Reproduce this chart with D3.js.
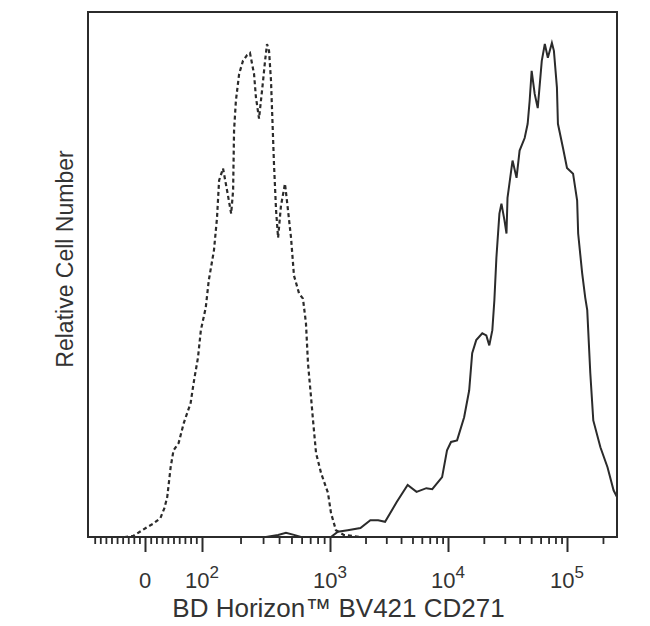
<!DOCTYPE html>
<html>
<head>
<meta charset="utf-8">
<script src="https://cdn.jsdelivr.net/npm/d3@7"></script>
<style>
  html, body { margin: 0; padding: 0; background: #fff; }
  svg { display: block; font-family: "Liberation Sans", Arial, sans-serif; }
</style>
</head>
<body>
<svg id="chart" width="650" height="626"></svg>
<script>
// ---- data (fluorescence intensity vs relative count) ----
const controlX = [-100, -36, -21, 4, 14, 27, 34, 39, 45, 50, 59, 68, 80, 86, 93, 98,
  107, 113, 124, 131, 136, 146, 157, 169, 175, 178, 184, 195, 209, 225, 237, 255, 264, 279,
  300, 311, 322, 334, 346, 365, 379, 393, 414, 445, 470, 496, 523, 573, 615, 649, 673, 711,
  737, 778, 851, 964, 1019, 1122, 1308, 1811, 262144];
const controlY = [0, 0, 0.2, 1.9, 2.5, 3.6, 5.5, 7.6, 13.3, 16.5, 17.9, 21.7, 25.5, 29.8, 34.2, 39.4,
  43.7, 48.9, 54.6, 60.8, 67.9, 70.2, 66.0, 61.6, 66.0, 77.4, 83.1, 88.2, 90.7, 91.8, 92.2, 88.2, 83.7, 79.7,
  86.9, 90.7, 93.9, 92.6, 86.9, 71.1, 62.2, 57.0, 63.1, 67.3, 62.2, 57.0, 49.8, 46.4, 45.4, 40.7, 33.1, 26.6,
  22.2, 16.0, 12.2, 8.4, 4.6, 1.3, 0.4, 0, 0];

const stainedX = [-100, 316, 393, 453, 523, 593, 1019, 1166, 1413, 1811, 2197, 2560, 2929, 3687, 4550,
  5412, 6556, 7356, 8913, 9810, 10603, 11917, 13664, 15060, 15968, 17267, 19409, 20986, 22233, 23584,
  24529, 25509, 27040, 28126, 29825, 31011, 31623, 34198, 34873, 37670, 39963, 44080, 46710, 48552,
  50469, 53520, 56760, 61378, 65100, 69040, 74660, 77627, 82300, 83900, 92550, 100000, 112400, 121600,
  124000, 134000, 142100, 147700, 156700, 166000, 190400, 218300, 245400, 262144];
const stainedY = [0, 0, 0.4, 0.8, 0.4, 0, 0, 1.0, 1.3, 1.7, 3.2, 3.2, 2.9, 6.7, 9.9,
  8.6, 9.3, 9.1, 11.4, 16.5, 18.1, 18.4, 22.8, 27.9, 35.0, 37.5, 38.8, 38.4, 36.5, 39.4,
  45.1, 53.2, 61.6, 63.5, 60.3, 57.8, 64.6, 70.3, 71.7, 68.4, 73.6, 76.0, 78.7, 83.1,
  88.8, 84.4, 81.7, 90.7, 93.9, 91.3, 94.1, 92.6, 85.6, 78.7, 74.1, 70.3, 69.2, 64.1,
  57.8, 50.2, 45.6, 43.2, 31.2, 22.2, 17.1, 13.3, 8.9, 7.6];

const majorTicks = [0, 100, 1000, 10000, 100000];
const majorLabels = [["0", ""], ["10", "2"], ["10", "3"], ["10", "4"], ["10", "5"]];
const minorTicks = [-90, -80, -70, -60, -50, -40, -30, -20, -10, 10, 20, 30, 40, 50, 60, 70, 80, 90,
  200, 300, 400, 500, 600, 700, 800, 900,
  2000, 3000, 4000, 5000, 6000, 7000, 8000, 9000,
  20000, 30000, 40000, 50000, 60000, 70000, 80000, 90000, 200000];
const xTitle = "BD Horizon™ BV421 CD271";
const yTitle = "Relative Cell Number";

// ---- scales ----
const tr = v => v <= 100 ? v / 100 : 1 + Math.log10(v / 100);   // biexponential-like display transform
const L = 88, R = 617, T = 12, B = 537;
const x = d3.scaleLinear()
  .domain([tr(-102), 0, 1, 2, 3, 4, tr(262144)])
  .range([L, 145, 202, 330, 448, 567, R]);
const y = d3.scaleLinear().domain([0, 100]).range([B, T]);

const svg = d3.select("#chart");
const ink = "#2b2b2b";

// ---- curves ----
const line = d3.line().x(d => x(tr(d[0]))).y(d => y(d[1]));
svg.append("path")
  .datum(controlX.map((v, i) => [v, controlY[i]]))
  .attr("d", line)
  .attr("fill", "none").attr("stroke", ink).attr("stroke-width", 2.2)
  .attr("stroke-dasharray", "4,3");
svg.append("path")
  .datum(stainedX.map((v, i) => [v, stainedY[i]]))
  .attr("d", line)
  .attr("fill", "none").attr("stroke", ink).attr("stroke-width", 2);

// ---- axes ----
svg.append("g").attr("transform", `translate(0,${B})`)
  .call(d3.axisBottom(x).tickValues(minorTicks.map(tr)).tickSize(7).tickFormat(""))
  .call(g => g.select(".domain").remove())
  .call(g => g.selectAll("line").attr("stroke", ink).attr("stroke-width", 1.8));
svg.append("g").attr("transform", `translate(0,${B})`)
  .call(d3.axisBottom(x).tickValues(majorTicks.map(tr)).tickSize(15).tickFormat(""))
  .call(g => g.select(".domain").remove())
  .call(g => g.selectAll("line").attr("stroke", ink).attr("stroke-width", 2));

// frame
svg.append("rect").attr("x", L).attr("y", T).attr("width", R - L).attr("height", B - T)
  .attr("fill", "none").attr("stroke", ink).attr("stroke-width", 2);

// tick labels
const lab = svg.append("g").attr("fill", "#333");
majorTicks.forEach((v, i) => {
  const t = lab.append("text").attr("x", x(tr(v))).attr("y", 588)
    .attr("text-anchor", "middle").attr("font-size", 22);
  t.append("tspan").text(majorLabels[i][0]);
  if (majorLabels[i][1]) {
    t.append("tspan").attr("dy", -10).attr("font-size", 17).text(majorLabels[i][1]);
  }
});

// titles
svg.append("text").attr("x", (168 + 509) / 2).attr("y", 617)
  .attr("text-anchor", "middle").attr("font-size", 26).attr("fill", "#333").text(xTitle);
svg.append("text").attr("transform", `translate(73,259) rotate(-90)`)
  .attr("text-anchor", "middle").attr("font-size", 23).attr("fill", "#333").text(yTitle);
</script>
</body>
</html>
